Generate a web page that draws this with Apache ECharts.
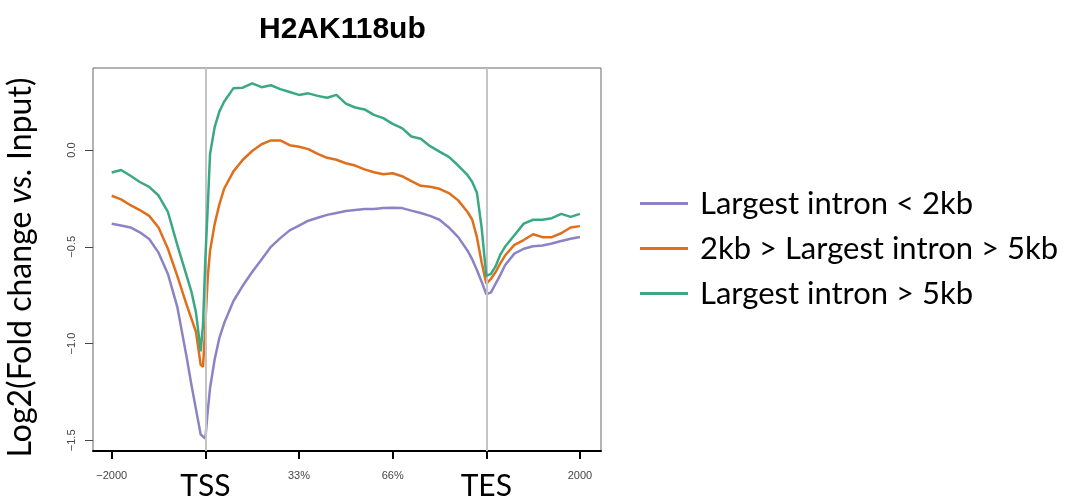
<!DOCTYPE html>
<html>
<head>
<meta charset="UTF-8">
<title>H2AK118ub</title>
<script src="https://cdn.jsdelivr.net/npm/echarts@6/dist/echarts.min.js"></script>
<style>
  body { margin: 0; background: #fff; }
  #chart { width: 1071px; height: 501px; }
</style>
</head>
<body>
<div id="chart"></div>
<script>
// bin positions: 0 = -2000, 20 = TSS, 80 = TES, 100 = +2000
const xPos = [0, 2, 4, 6, 8, 10, 12, 14, 16, 17, 18, 19, 19.5, 20, 20.5, 21, 22, 23, 24,
  26, 28, 30, 32, 34, 36, 38, 40, 42, 44, 46, 48, 50, 52, 54, 56, 58, 60, 62, 64, 66, 68,
  70, 72, 74, 76, 77, 78, 79, 80, 81, 82, 83, 84, 86, 88, 90, 92, 94, 96, 98, 100];

const seriesNames = ['Largest intron < 2kb', '2kb > Largest intron > 5kb', 'Largest intron > 5kb'];

const small = [-0.381, -0.39, -0.40, -0.425, -0.46, -0.53, -0.64, -0.81, -1.07, -1.21, -1.34, -1.47, -1.48, -1.49, -1.35, -1.23, -1.08, -0.97, -0.895,
  -0.78, -0.70, -0.63, -0.565, -0.50, -0.455, -0.415, -0.39, -0.365, -0.35, -0.335, -0.325, -0.315, -0.31, -0.305, -0.305, -0.30, -0.298, -0.30, -0.313, -0.325, -0.34,
  -0.36, -0.40, -0.45, -0.52, -0.565, -0.62, -0.68, -0.745, -0.735, -0.69, -0.645, -0.595, -0.535, -0.51, -0.497, -0.493, -0.483, -0.47, -0.458, -0.449];

const medium = [-0.236, -0.255, -0.285, -0.31, -0.34, -0.40, -0.51, -0.65, -0.80, -0.87, -0.94, -1.11, -1.12, -0.90, -0.66, -0.52, -0.38, -0.28, -0.20,
  -0.11, -0.05, -0.005, 0.03, 0.05, 0.05, 0.025, 0.017, 0.005, -0.02, -0.04, -0.05, -0.068, -0.08, -0.10, -0.115, -0.125, -0.12, -0.135, -0.16, -0.185, -0.19,
  -0.20, -0.222, -0.26, -0.32, -0.36, -0.45, -0.58, -0.69, -0.665, -0.63, -0.585, -0.545, -0.49, -0.465, -0.435, -0.45, -0.45, -0.43, -0.40, -0.393];

const large = [-0.116, -0.103, -0.133, -0.165, -0.19, -0.235, -0.32, -0.49, -0.65, -0.73, -0.84, -1.04, -0.90, -0.56, -0.30, -0.02, 0.12, 0.20, 0.25,
  0.32, 0.322, 0.345, 0.325, 0.335, 0.315, 0.30, 0.285, 0.293, 0.28, 0.27, 0.285, 0.24, 0.22, 0.21, 0.182, 0.165, 0.135, 0.113, 0.07, 0.058, 0.02,
  -0.008, -0.035, -0.08, -0.13, -0.165, -0.22, -0.40, -0.65, -0.64, -0.60, -0.54, -0.50, -0.44, -0.38, -0.36, -0.36, -0.352, -0.33, -0.345, -0.33];

const xTicks = [0, 20, 40, 60, 80, 100];
const xTickLabels = ['\u22122000', 'TSS', '33%', '66%', 'TES', '2000'];
const yTicks = [-1.5, -1.0, -0.5, 0.0];
const markers = [20, 80];

const colors = ['#8a84c4', '#e06f1c', '#3aa983'];

const chart = echarts.init(document.getElementById('chart'));

function toPoints(ys) {
  return xPos.map((x, i) => [x, ys[i]]);
}

const option = {
  animation: false,
  color: colors,
  title: {
    text: 'H2AK118ub',
    left: 254,
    top: 10,
    textStyle: { fontFamily: 'Liberation Sans', fontWeight: 'bold', fontSize: 30, color: '#000' }
  },
  legend: {
    orient: 'vertical',
    left: 635,
    top: 183,
    itemWidth: 48,
    itemHeight: 3,
    itemGap: 14,
    icon: 'rect',
    data: seriesNames,
    textStyle: { fontFamily: 'Lato', fontSize: 31, color: '#000', padding: [0, 0, 0, 7] }
  },
  grid: {
    left: 93, top: 68, width: 508, height: 386,
    show: true, borderColor: '#666', borderWidth: 1
  },
  xAxis: {
    type: 'value',
    min: -4, max: 104.5,
    splitLine: { show: false },
    axisLine: { show: true, onZero: false, lineStyle: { color: '#000', width: 2 } },
    axisTick: { customValues: xTicks, length: 8, lineStyle: { color: '#000', width: 2 } },
    axisLabel: {
      customValues: xTicks,
      margin: 16,
      formatter: v => {
        const lab = xTickLabels[xTicks.indexOf(v)];
        return (lab === 'TSS' || lab === 'TES') ? '{big|' + lab + '}' : '{small|' + lab + '}';
      },
      rich: {
        small: { fontFamily: 'Liberation Sans', fontSize: 11, color: '#444', padding: [3, 0, 0, 0] },
        big: { fontFamily: 'Lato', fontSize: 30, color: '#000', padding: [4, 0, 0, 0] }
      }
    }
  },
  yAxis: {
    type: 'value',
    min: -1.555, max: 0.424,
    name: 'Log2(Fold change {i|vs.} Input)',
    nameLocation: 'middle',
    nameGap: 56,
    nameTextStyle: {
      fontFamily: 'Lato', fontSize: 32, color: '#000',
      padding: [0, 16, 0, 0],
      rich: { i: { fontFamily: 'Lato', fontSize: 32, fontStyle: 'italic', color: '#000' } }
    },
    splitLine: { show: false },
    axisLine: { show: false, onZero: false },
    axisTick: { show: true, customValues: yTicks, length: 8, lineStyle: { color: '#444', width: 1 } },
    axisLabel: {
      customValues: yTicks,
      rotate: 90,
      margin: 16,
      fontFamily: 'Liberation Sans', fontSize: 11, color: '#444',
      formatter: v => v.toFixed(1).replace('-', '\u2212')
    }
  },
  series: [
    {
      name: seriesNames[0], type: 'line', data: toPoints(small),
      showSymbol: false, lineStyle: { width: 2.5 }, z: 3,
      markLine: {
        silent: true, symbol: 'none', label: { show: false },
        lineStyle: { color: '#c4c4c4', width: 2, type: 'solid' },
        data: markers.map(m => ({ xAxis: m }))
      }
    },
    { name: seriesNames[1], type: 'line', data: toPoints(medium), showSymbol: false, lineStyle: { width: 2.5 }, z: 4 },
    { name: seriesNames[2], type: 'line', data: toPoints(large), showSymbol: false, lineStyle: { width: 2.5 }, z: 5 }
  ]
};

chart.setOption(option);
</script>
</body>
</html>
